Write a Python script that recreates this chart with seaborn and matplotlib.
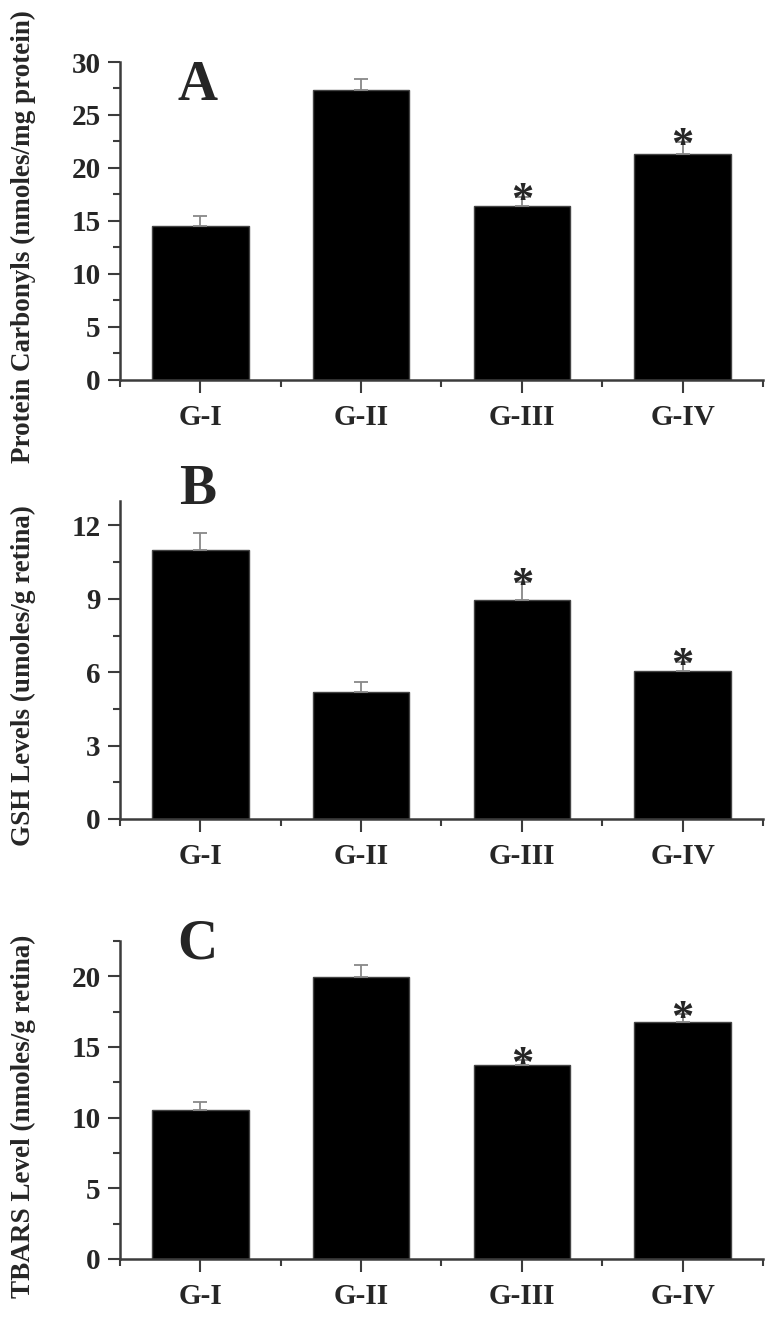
import matplotlib
matplotlib.use('Agg')
import matplotlib.pyplot as plt
import seaborn as sns
import numpy as np
from matplotlib.ticker import MultipleLocator, FixedLocator

sns.set_style('ticks')
plt.rcParams['font.family'] = ['Liberation Serif', 'DejaVu Serif']
plt.rcParams['font.weight'] = 'bold'

groups = ['G-I', 'G-II', 'G-III', 'G-IV']

# Panel A - protein carbonyls
carbonyl_mean = [14.5, 27.4, 16.4, 21.3]
carbonyl_err = [0.95, 0.95, 0.9, 1.15]

# Panel B - GSH
gsh_mean = [11.0, 5.2, 8.95, 6.07]
gsh_err = [0.7, 0.4, 0.75, 0.35]

# Panel C - TBARS
tbars_mean = [10.55, 19.95, 13.7, 16.8]
tbars_err = [0.55, 0.85, 0.35, 0.5]

# groups marked significant
starred = ['G-III', 'G-IV']

panels = [
    ('A', carbonyl_mean, carbonyl_err, 'Protein Carbonyls (nmoles/mg protein)', 30, 5, 1.006),
    ('B', gsh_mean, gsh_err, 'GSH Levels (umoles/g retina)', 13, 3, 1.116),
    ('C', tbars_mean, tbars_err, 'TBARS Level (nmoles/g retina)', 22.5, 5, 1.07),
]
bottoms = [0.7126, 0.3805, 0.0477]

fig = plt.figure(figsize=(7.71, 13.22), dpi=100)
axis_col = '#3c3c3c'

for (letter, means, errs, ylabel, ymax, step, letter_y), bot in zip(panels, bottoms):
    ax = fig.add_axes([0.1556, bot, 0.834, 0.2405])
    sns.barplot(x=groups, y=means, color='black', width=0.6, ax=ax,
                edgecolor='#444444', linewidth=1, saturation=1)
    x = np.arange(len(groups))
    ax.errorbar(x, means, yerr=[np.zeros(len(errs)), errs], fmt='none',
                ecolor='#888888', elinewidth=1.3, capsize=5, capthick=1.3)
    for i, g in enumerate(groups):
        if g in starred:
            ax.annotate('*', xy=(i, means[i] + errs[i]), xytext=(0, -11),
                        textcoords='offset points', ha='center', va='baseline',
                        fontsize=32, fontweight='bold')

    ax.set_xlim(-0.5, 3.5)
    ax.set_ylim(0, ymax)
    ax.yaxis.set_major_locator(MultipleLocator(step))
    ax.yaxis.set_minor_locator(MultipleLocator(step / 2))
    ax.xaxis.set_minor_locator(FixedLocator([-0.5, 0.5, 1.5, 2.5, 3.5]))
    sns.despine(ax=ax)
    for side in ['left', 'bottom']:
        ax.spines[side].set_color(axis_col)
        ax.spines[side].set_linewidth(1.8)
    ax.tick_params(axis='both', which='major', length=9, width=1.5, color=axis_col,
                   labelsize=21, pad=5)
    ax.tick_params(axis='x', which='major', pad=8)
    ax.tick_params(axis='both', which='minor', length=5, width=1.5, color=axis_col)
    for lab in ax.get_xticklabels() + ax.get_yticklabels():
        lab.set_fontweight('bold')

    ax.set_ylabel(ylabel, fontsize=19.5, fontweight='bold')
    ax.yaxis.set_label_coords(-0.13, 0.45)
    ax.text(0.12, letter_y, letter, transform=ax.transAxes, ha='center', va='top',
            fontsize=40, fontweight='bold')

fig.savefig('out.png', dpi=100)
